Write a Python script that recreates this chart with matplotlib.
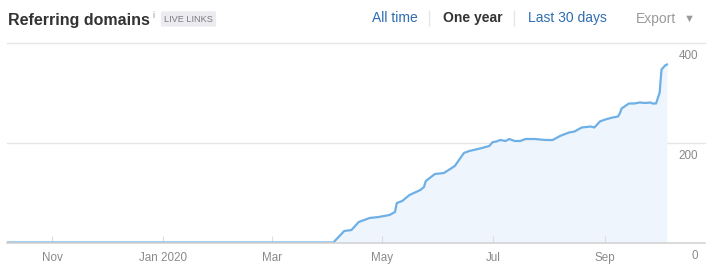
import matplotlib
matplotlib.use("Agg")
import matplotlib.pyplot as plt
import numpy as np
from matplotlib.lines import Line2D

plt.rcParams['font.family'] = ['Liberation Sans', 'DejaVu Sans']

# referring domains
dates = np.array([
    '2019-10-07', '2020-04-04', '2020-04-10', '2020-04-14', '2020-04-18', '2020-04-24',
    '2020-04-29', '2020-05-05', '2020-05-08', '2020-05-09', '2020-05-12', '2020-05-16',
    '2020-05-22', '2020-05-24', '2020-05-25', '2020-05-30', '2020-06-04', '2020-06-10',
    '2020-06-15', '2020-06-18', '2020-06-25', '2020-06-29', '2020-07-01', '2020-07-03',
    '2020-07-05', '2020-07-08', '2020-07-10', '2020-07-13', '2020-07-16', '2020-07-19',
    '2020-07-24', '2020-07-30', '2020-08-03', '2020-08-07', '2020-08-12', '2020-08-15',
    '2020-08-19', '2020-08-24', '2020-08-26', '2020-08-29', '2020-09-01', '2020-09-05',
    '2020-09-08', '2020-09-09', '2020-09-10', '2020-09-14', '2020-09-17', '2020-09-20',
    '2020-09-23', '2020-09-26', '2020-09-27', '2020-09-29', '2020-10-01', '2020-10-02',
    '2020-10-04', '2020-10-05'], dtype='datetime64[D]')
domains = [
    0, 0, 23, 25, 41, 49,
    51, 55, 61, 79, 83, 95,
    105, 111, 123, 137, 139, 153,
    179, 183, 189, 193, 201, 202,
    205, 203, 207, 203, 203, 207,
    207, 205, 205, 213, 220, 222,
    230, 232, 230, 242, 246, 250,
    252, 258, 268, 278, 278, 280,
    279, 280, 278, 278, 300, 346,
    354, 356]

month_ticks = np.array(['2019-11-01', '2020-01-01', '2020-03-01', '2020-05-01',
                        '2020-07-01', '2020-09-01'], dtype='datetime64[D]')
month_labels = ['Nov', 'Jan 2020', 'Mar', 'May', 'Jul', 'Sep']
y_ticks = [0, 200, 400]

W, H = 720, 269
fig = plt.figure(figsize=(W / 100, H / 100), dpi=100)
ax = fig.add_axes([7 / W, 26.5 / H, 698 / W, 200 / H])

line_c = '#6eb0e6'
ax.fill_between(dates, domains, 0, color='#eef5fd', lw=0)
ax.plot(dates, domains, color=line_c, lw=1.6, solid_joinstyle='round')

ax.set_xlim(np.datetime64('2019-10-07'), np.datetime64('2020-10-26'))
ax.set_ylim(0, 400)

for v in [200, 400]:
    ax.axhline(v, color='#e6e6e6', lw=1, clip_on=False, zorder=0)

for s in ['top', 'left', 'right']:
    ax.spines[s].set_visible(False)
ax.spines['bottom'].set_color('#d3d3d3')
ax.spines['bottom'].set_linewidth(1.2)

ax.set_xticks(month_ticks)
ax.set_xticklabels(month_labels)
ax.tick_params(axis='x', direction='in', length=5, color='#dcdcdc', labelsize=8.4,
               labelcolor='#8a8a8a', pad=7)
ax.set_yticks([])
for v in y_ticks:
    ax.annotate(str(v), xy=(1.0, v), xycoords=('axes fraction', 'data'),
                xytext=(-5, -10), textcoords='offset points', ha='right', va='center',
                fontsize=8.4, color='#8a8a8a', annotation_clip=False)

# header
def px(x, y):
    return x / W, 1 - y / H

fig.text(*px(8, 20), 'Referring domains', fontsize=11.5, fontweight='bold',
         color='#333333', va='center')
fig.text(*px(152, 15), 'i', fontsize=6.5, color='#999999', va='center')
fig.text(*px(164, 19), 'LIVE LINKS', fontsize=6.6, color='#7a7a80', va='center',
         bbox=dict(boxstyle='round,pad=0.35,rounding_size=0.2', fc='#ececf0', ec='none'))

fig.text(*px(372, 18), 'All time', fontsize=10, color='#2e6db4', va='center')
fig.text(*px(443, 18), 'One year', fontsize=10, color='#333333', fontweight='bold', va='center')
fig.text(*px(528, 18), 'Last 30 days', fontsize=10, color='#2e6db4', va='center')
fig.text(*px(636, 19), 'Export', fontsize=10, color='#9a9a9a', va='center')
fig.text(*px(684, 19), '▼', fontsize=8, color='#9a9a9a', va='center')
for xs in [429, 514]:
    fig.add_artist(Line2D([xs / W, xs / W], [1 - 11 / H, 1 - 26 / H], color='#e6e6e6', lw=1))

fig.savefig('out.png', dpi=100)
